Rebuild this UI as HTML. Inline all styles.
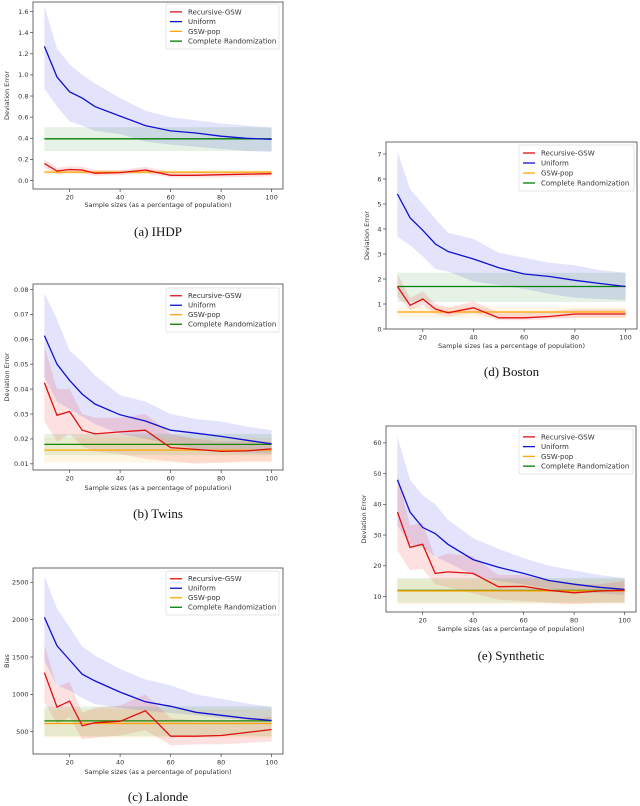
<!DOCTYPE html>
<html><head><meta charset="utf-8"><style>
body{margin:0;background:#fff;width:640px;height:806px;overflow:hidden}
svg{display:block}
.cap{font-family:"Liberation Serif",serif;font-size:13px;fill:#111}
.tk{font-family:"DejaVu Sans","Liberation Sans",sans-serif;font-size:6.5px;fill:#333}
.lg{font-family:"DejaVu Sans","Liberation Sans",sans-serif;font-size:7px;fill:#333}
</style></head><body>
<svg id="fig" width="640" height="806" viewBox="0 0 640 806" xmlns="http://www.w3.org/2000/svg"></svg>
<script>
const sampleSizes=[10,15,20,25,30,40,50,60,70,80,90,100];
const xTicks=[20,40,60,80,100];
// (a) IHDP
const ihdpUniform=[1.27,0.98,0.84,0.78,0.70,0.61,0.52,0.47,0.45,0.42,0.40,0.39];
const ihdpUniformHi=[1.65,1.25,1.10,1.00,0.92,0.78,0.66,0.60,0.57,0.54,0.52,0.50];
const ihdpUniformLo=[0.87,0.70,0.56,0.52,0.47,0.44,0.37,0.34,0.32,0.30,0.28,0.27];
const ihdpRecursive=[0.16,0.09,0.105,0.10,0.07,0.075,0.10,0.05,0.05,0.055,0.06,0.065];
const ihdpRecursiveHi=[0.20,0.12,0.135,0.13,0.10,0.10,0.13,0.08,0.08,0.08,0.085,0.09];
const ihdpRecursiveLo=[0.12,0.06,0.075,0.07,0.045,0.05,0.07,0.03,0.03,0.03,0.035,0.04];
const ihdpGswPop=[0.08,0.06,0.10];
const ihdpComplete=[0.395,0.28,0.505];
const ihdpYTicks=[0.0,0.2,0.4,0.6,0.8,1.0,1.2,1.4,1.6];
// (b) Twins
const twinsUniform=[0.0615,0.050,0.0435,0.038,0.034,0.0297,0.0272,0.0235,0.0223,0.021,0.0195,0.018];
const twinsUniformHi=[0.0785,0.068,0.0555,0.051,0.0455,0.0375,0.035,0.030,0.028,0.027,0.025,0.0235];
const twinsUniformLo=[0.045,0.035,0.032,0.029,0.026,0.022,0.020,0.018,0.016,0.015,0.0145,0.014];
const twinsRecursive=[0.0425,0.0295,0.031,0.0235,0.022,0.0228,0.0235,0.0165,0.0158,0.015,0.0152,0.016];
const twinsRecursiveHi=[0.057,0.040,0.040,0.030,0.0285,0.0285,0.030,0.022,0.020,0.019,0.019,0.019];
const twinsRecursiveLo=[0.027,0.019,0.022,0.017,0.015,0.014,0.012,0.011,0.010,0.0105,0.011,0.011];
const twinsGswPop=[0.0155,0.0105,0.0205];
const twinsComplete=[0.0178,0.0135,0.022];
const twinsYTicks=[0.01,0.02,0.03,0.04,0.05,0.06,0.07,0.08];
// (c) Lalonde
const lalondeUniform=[2030,1650,1460,1270,1180,1030,900,840,760,720,680,650];
const lalondeUniformHi=[2580,2150,1900,1640,1520,1340,1200,1120,1000,940,880,830];
const lalondeUniformLo=[1450,1120,1050,950,870,820,780,750,720,680,660,650];
const lalondeRecursive=[1290,830,910,580,620,640,780,440,440,450,490,530];
const lalondeRecursiveHi=[1660,1100,1170,750,820,850,1000,680,650,640,660,700];
const lalondeRecursiveLo=[900,600,700,400,420,450,520,320,330,330,350,370];
const lalondeGswPop=[610,420,800];
const lalondeComplete=[645,440,840];
const lalondeYTicks=[500,1000,1500,2000,2500];
// (d) Boston
const bostonUniform=[5.4,4.45,3.95,3.4,3.1,2.8,2.45,2.2,2.1,1.95,1.82,1.7];
const bostonUniformHi=[7.1,5.6,5.0,4.4,3.85,3.6,3.05,2.85,2.65,2.55,2.35,2.25];
const bostonUniformLo=[3.7,3.35,2.9,2.4,2.3,1.9,1.75,1.6,1.4,1.25,1.2,1.15];
const bostonRecursive=[1.7,0.95,1.2,0.8,0.65,0.85,0.45,0.45,0.5,0.6,0.6,0.6];
const bostonRecursiveHi=[2.2,1.25,1.5,1.0,0.85,1.1,0.65,0.65,0.7,0.8,0.8,0.8];
const bostonRecursiveLo=[1.3,0.75,0.95,0.6,0.5,0.65,0.35,0.35,0.4,0.45,0.45,0.45];
const bostonGswPop=[0.68,0.45,0.9];
const bostonComplete=[1.7,1.08,2.25];
const bostonYTicks=[0,1,2,3,4,5,6,7];
// (e) Synthetic
const synthUniform=[48,37.5,32.5,30.5,27,22,19.5,17.5,15.2,14,13,12.3];
const synthUniformHi=[62,48,43,40,35,29,25.5,22.5,20,18.5,17,16];
const synthUniformLo=[33,27,26,23,21,17,15,14,12.5,11.5,11,10.5];
const synthRecursive=[37.5,26,27,17.5,18,17.5,13.2,13.3,12,11.2,11.8,12];
const synthRecursiveHi=[50,33,34,22.5,24,23,17,17,15,14,14,15];
const synthRecursiveLo=[25,18.5,19,14,13,11,9,8.5,8,7.5,8,8];
const synthGswPop=[11.8,7.5,15.5];
const synthComplete=[12,8,16];
const synthYTicks=[10,20,30,40,50,60];

const NS='http://www.w3.org/2000/svg';
const fig=document.getElementById('fig');
function mk(tag,attrs,parent,txt){const e=document.createElementNS(NS,tag);for(const k in attrs)e.setAttribute(k,attrs[k]);if(txt!==undefined)e.textContent=txt;parent.appendChild(e);return e;}

const plots=[
 {id:'ihdp',cap:'(a) IHDP',box:[33,2,283,189],ylim:[-0.08,1.69],yl:'Deviation Error',ylx:9,dec:1,ticks:ihdpYTicks,
  u:ihdpUniform,uh:ihdpUniformHi,ul:ihdpUniformLo,r:ihdpRecursive,rh:ihdpRecursiveHi,rl:ihdpRecursiveLo,g:ihdpGswPop,c:ihdpComplete,leg:[166,4,279,49],xlY:207,capY:236},
 {id:'twins',cap:'(b) Twins',box:[33,284,283,470],ylim:[0.00752,0.0822],yl:'Deviation Error',ylx:9,dec:2,ticks:twinsYTicks,
  u:twinsUniform,uh:twinsUniformHi,ul:twinsUniformLo,r:twinsRecursive,rh:twinsRecursiveHi,rl:twinsRecursiveLo,g:twinsGswPop,c:twinsComplete,leg:[166,288,279,332],xlY:490,capY:518},
 {id:'lalonde',cap:'(c) Lalonde',box:[33,568,283,754],ylim:[202,2691],yl:'Bias',ylx:9,dec:0,ticks:lalondeYTicks,
  u:lalondeUniform,uh:lalondeUniformHi,ul:lalondeUniformLo,r:lalondeRecursive,rh:lalondeRecursiveHi,rl:lalondeRecursiveLo,g:lalondeGswPop,c:lalondeComplete,leg:[166,571,279,615],xlY:774,capY:801},
 {id:'boston',cap:'(d) Boston',box:[386,142,637,329],ylim:[0,7.48],yl:'Deviation Error',ylx:369,dec:0,ticks:bostonYTicks,
  u:bostonUniform,uh:bostonUniformHi,ul:bostonUniformLo,r:bostonRecursive,rh:bostonRecursiveHi,rl:bostonRecursiveLo,g:bostonGswPop,c:bostonComplete,leg:[519,145,634,191],xlY:348,capY:376},
 {id:'synthetic',cap:'(e) Synthetic',box:[386,426,636,612],ylim:[4.95,65.5],yl:'Deviation Error',ylx:366,dec:0,ticks:synthYTicks,
  u:synthUniform,uh:synthUniformHi,ul:synthUniformLo,r:synthRecursive,rh:synthRecursiveHi,rl:synthRecursiveLo,g:synthGswPop,c:synthComplete,leg:[519,429,633,474],xlY:631,capY:660}
];

plots.forEach(p=>{
 const [x0,y0,x1,y1]=p.box;
 const g=mk('g',{},fig);
 
 
 const xs=v=>x0+(v-5.5)/(104.5-5.5)*(x1-x0);
 const ys=v=>y1-(v-p.ylim[0])/(p.ylim[1]-p.ylim[0])*(y1-y0);
 const clip='clip-'+p.id;
 const cp=mk('clipPath',{id:clip},g);mk('rect',{x:x0,y:y0,width:x1-x0,height:y1-y0},cp);
 const area=mk('g',{'clip-path':'url(#'+clip+')'},g);
 const band=(hi,lo,fill,name)=>{let d='';sampleSizes.forEach((s,i)=>{d+=(i?'L':'M')+xs(s).toFixed(1)+','+ys(hi[i]).toFixed(1);});
  for(let i=sampleSizes.length-1;i>=0;i--)d+='L'+xs(sampleSizes[i]).toFixed(1)+','+ys(lo[i]).toFixed(1);
  const e=mk('path',{d:d+'Z',fill:fill},area);
  
  };
 const line=(vals,col,name)=>{let d='';sampleSizes.forEach((s,i)=>{d+=(i?'L':'M')+xs(s).toFixed(1)+','+ys(vals[i]).toFixed(1);});
  const e=mk('path',{d:d,fill:'none',stroke:col,'stroke-width':1.3},area);
  
  };
 const hband=(arr,fill,col,name)=>{const xa=xs(sampleSizes[0]),xb=xs(sampleSizes[sampleSizes.length-1]);
  const r=mk('rect',{x:xa,y:ys(arr[2]),width:xb-xa,height:ys(arr[1])-ys(arr[2]),fill:fill},area);
  
  
  const l=mk('line',{x1:xa,x2:xb,y1:ys(arr[0]),y2:ys(arr[0]),stroke:col,'stroke-width':1.3},area);
  
  };
 band(p.uh,p.ul,'rgba(0,0,230,0.11)','uniform-band');
 band(p.rh,p.rl,'rgba(240,0,0,0.12)','recursive-gsw-band');
 hband(p.c,'rgba(0,128,0,0.1)','green','complete-randomization');
 hband(p.g,'rgba(255,165,0,0.1)','orange','gsw-pop');
 line(p.u,'#1010d0','uniform-line');
 line(p.r,'#e01010','recursive-gsw-line');
 // axes
 const fr=mk('rect',{x:x0,y:y0,width:x1-x0,height:y1-y0,fill:'none',stroke:'#444','stroke-width':0.8},g);
 
 
 xTicks.forEach(t=>{const X=xs(t);mk('line',{x1:X,x2:X,y1:y1,y2:y1+3,stroke:'#444','stroke-width':0.7},g);
  const tl=mk('text',{x:X,y:y1+10.5,'text-anchor':'middle',class:'tk'},g,String(t));
  
  });
 p.ticks.forEach(t=>{const Y=ys(t);mk('line',{x1:x0-3,x2:x0,y1:Y,y2:Y,stroke:'#444','stroke-width':0.7},g);
  const tl=mk('text',{x:x0-4.5,y:Y+2.3,'text-anchor':'end',class:'tk'},g,t.toFixed(p.dec));
  
  });
 const xl=mk('text',{x:(x0+x1)/2,y:p.xlY,'text-anchor':'middle',class:'tk'},g,'Sample sizes (as a percentage of population)');
 
 
 const yc=(y0+y1)/2;
 const yl=mk('text',{x:p.ylx,y:yc,'text-anchor':'middle',class:'tk',transform:'rotate(-90 '+p.ylx+' '+yc+')'},g,p.yl);
 
 
 const cap=mk('text',{x:(x0+x1)/2,y:p.capY,'text-anchor':'middle',class:'cap'},g,p.cap);
 
 
 // legend
 const [lx0,ly0,lx1,ly1]=p.leg;
 const lg=mk('g',{},g);
 
 
 mk('rect',{x:lx0,y:ly0,width:lx1-lx0,height:ly1-ly0,fill:'rgba(255,255,255,0.85)',stroke:'#ddd','stroke-width':0.7,rx:1.5},lg);
 const items=[['Recursive-GSW','#e01010'],['Uniform','#1010d0'],['GSW-pop','orange'],['Complete Randomization','green']];
 const step=(ly1-ly0-6)/4;
 items.forEach((it,i)=>{const Y=ly0+3+step*(i+0.5);
  const e=mk('g',{},lg);
  
  
  mk('line',{x1:lx0+4,x2:lx0+16,y1:Y,y2:Y,stroke:it[1],'stroke-width':1.3},e);
  mk('text',{x:lx0+22,y:Y+2.4,class:'lg'},e,it[0]);});
});
</script>
</body></html>
